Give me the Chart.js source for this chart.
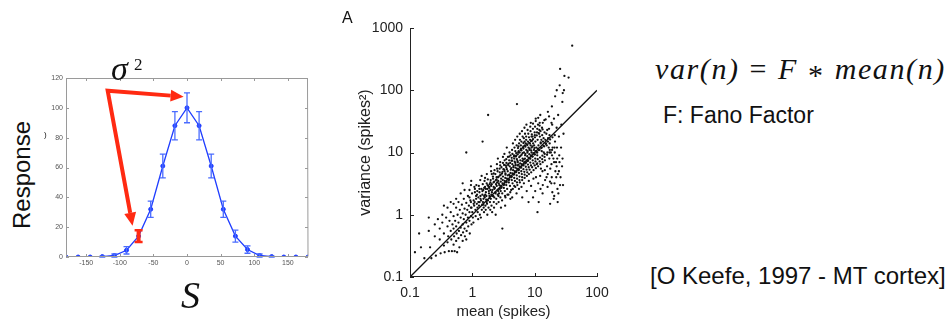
<!DOCTYPE html>
<html>
<head>
<meta charset="utf-8">
<script src="https://cdn.jsdelivr.net/npm/chart.js@4.4.1/dist/chart.umd.min.js"></script>
<style>
  body { margin: 0; width: 951px; height: 321px; background: #fff; position: relative; overflow: hidden;
         font-family: "Liberation Sans", Arial, sans-serif; color: #111; }
  .box { position: absolute; }
  .t { position: absolute; white-space: nowrap; line-height: 1; }
  .serif { font-family: "Liberation Serif", serif; }
  .eq span { display: inline-block; margin: 0 10px; font-style: normal; }
  .eq .ast { position: relative; top: 6px; }
</style>
</head>
<body>
<div class="box" style="left:40px;top:60px;width:280px;height:215px"><canvas id="tuning"></canvas></div>
<div class="box" style="left:340px;top:0;width:280px;height:321px"><canvas id="fano"></canvas></div>

<div class="t" style="left:22px;top:175px;font-size:24px;transform:translate(-50%,-50%) rotate(-90deg)">Response</div>
<div class="t" style="left:44px;top:131px;font-size:8px">)</div>
<div class="t serif" style="left:111px;top:52px;font-size:34px;font-style:italic">σ</div>
<div class="t serif" style="left:134px;top:56px;font-size:17px">2</div>
<div class="t serif" style="left:181px;top:276px;font-size:38px;font-style:italic">S</div>
<div class="t" style="left:342px;top:10px;font-size:16px">A</div>

<div class="t serif eq" style="left:655px;top:54px;font-size:30px;font-style:italic;letter-spacing:1.6px">var(n)<span>=</span>F<span class="ast">*</span>mean(n)</div>
<div class="t" style="left:663px;top:104px;font-size:23px">F: Fano Factor</div>
<div class="t" style="left:650px;top:264px;font-size:24px">[O Keefe, 1997 - MT cortex]</div>

<script>
// tuning curve (left)
const stimulus = [-180, -162, -144, -126, -108, -90, -72, -54, -36, -18, 0, 18, 36, 54, 72, 90, 108, 126, 144, 162, 180];
const response = [0, 0, 0, 0.3, 1, 4.5, 14, 32, 61, 88, 100, 88, 61, 32, 14, 5, 1, 0.3, 0, 0, 0];
const responseErr = [0, 0, 0, 0.3, 1, 2.5, 4, 5.5, 8, 9.5, 10, 9.5, 8, 5.5, 4, 2.5, 1, 0.3, 0, 0, 0];
const highlighted = 6; // the red error bar at -72
const tuningXTicks = [-150, -100, -50, 0, 50, 100, 150];
const tuningYTicks = [0, 20, 40, 60, 80, 100, 120];
// arrow end points in data units
const arrowCorner = [-118, 111.5];
const arrowToPeak = [-5, 107.5];
const arrowToFlank = [-81, 21];

const lowCountPts = [
  [0.1,0.22],[0.12,0.25],[0.14,0.5],[0.15,0.3],[0.17,0.2],[0.2,0.9],[0.2,0.55],[0.21,0.3],[0.22,0.2],[0.25,0.7],
  [0.25,0.45],[0.26,0.22],[0.28,0.85],[0.3,0.6],[0.3,0.4],[0.31,0.24],[0.33,1.0],[0.33,0.75],[0.35,0.5],[0.35,0.32],
  [0.36,0.25],[0.38,0.9],[0.4,1.3],[0.4,0.65],[0.41,0.45],[0.4,0.36],[0.42,0.26],[0.43,0.8],[0.45,1.1],[0.45,0.55],
  [0.46,0.4],[0.47,0.26],[0.48,0.7],[0.5,1.5],[0.5,0.95],[0.5,0.6],[0.51,0.45],[0.5,0.33],[0.52,0.26],[0.53,0.8],
  [0.55,1.3],[0.55,0.65],[0.56,0.5],[0.55,0.38],[0.57,0.25],[0.58,1.0],[0.6,1.6],[0.6,0.75],[0.61,0.55],[0.6,0.42],
  [0.62,0.3],[0.63,1.2],[0.65,0.9],[0.65,0.62],[0.66,0.47],[0.68,1.45],[0.7,1.05],[0.7,0.7],[0.71,0.52],[0.7,0.38],
  [0.73,1.8],[0.73,0.85],[0.75,1.25],[0.75,0.6],[0.76,0.45],[0.78,1.0],[0.8,1.55],[0.8,0.75],[0.81,0.55],[0.8,0.4],
  [0.83,1.2],[0.85,2.0],[0.85,0.9],[0.86,0.65],[0.88,1.4],[0.9,1.1],[0.9,0.8],[0.91,0.5],[0.93,1.7],[0.95,1.3],
  [0.95,0.95],[0.97,0.7],[0.8,10],[0.75,2.5],[0.65,2.2],[0.55,1.8],[0.45,1.6],[0.35,1.4],[0.9,2.5],[0.95,3.0],[0.7,3.2]
];
const mainCloudPts = [
  [1.02,0.9],[0.97,1.3],[1.05,1.7],[0.99,2.2],[1.08,2.8],[1.0,1.1],[1.04,0.75],[0.96,3.5],
  [1.12,1.2],[1.09,1.6],[1.15,2.0],[1.1,2.6],[1.13,0.95],[1.07,1.4],
  [1.22,1.1],[1.18,1.5],[1.25,1.9],[1.2,2.4],[1.16,3.0],[1.24,0.85],[1.21,1.3],[1.19,2.1],
  [1.32,1.0],[1.28,1.4],[1.35,1.8],[1.3,2.3],[1.27,2.9],[1.34,3.6],[1.31,1.6],
  [1.42,1.2],[1.38,1.7],[1.45,2.1],[1.4,2.6],[1.44,1.45],[1.37,0.9],[1.41,4.2],
  [1.52,1.3],[1.48,1.6],[1.55,2.0],[1.5,2.5],[1.47,3.1],[1.54,1.1],[1.51,1.8],[1.46,15],
  [1.62,1.4],[1.58,1.9],[1.65,2.3],[1.6,2.8],[1.57,3.5],[1.64,1.2],[1.61,2.1],
  [1.72,1.5],[1.68,2.0],[1.75,2.6],[1.7,3.2],[1.74,1.0],[1.67,1.75],[1.71,4.5],
  [1.82,1.3],[1.78,1.7],[1.85,2.2],[1.8,2.9],[1.77,3.7],[1.84,2.4],[1.79,40],
  [1.92,1.6],[1.88,2.0],[1.95,2.5],[1.9,3.1],[1.94,1.2],[1.87,2.7],
  [2.03,1.4],[1.98,1.8],[2.06,2.3],[2.0,2.9],[1.97,3.6],[2.05,4.5],[2.02,2.1],[2.08,1.1],[1.99,6],
  [2.21,1.6],[2.16,2.0],[2.25,2.6],[2.19,3.3],[2.14,4.1],[2.23,1.3],[2.2,2.8],[2.27,5.2],
  [2.42,1.8],[2.36,2.3],[2.46,2.9],[2.39,3.6],[2.34,4.5],[2.44,1.5],[2.4,3.1],[2.48,6.5],[2.37,1.0],
  [2.62,2.0],[2.56,2.5],[2.66,3.2],[2.59,4.0],[2.54,5.0],[2.64,1.6],[2.6,3.5],[2.68,2.2],[2.57,8],
  [2.82,1.9],[2.76,2.6],[2.86,3.4],[2.79,4.3],[2.74,5.5],[2.84,2.9],[2.8,7],[2.88,1.3],
  [3.02,2.2],[2.95,2.8],[3.08,3.6],[2.99,4.6],[2.93,5.8],[3.05,3.2],[3.0,1.7],[3.1,8.5],[3.03,0.6],
  [3.32,2.4],[3.25,3.1],[3.38,3.9],[3.29,5.0],[3.23,6.3],[3.35,2.0],[3.3,3.5],[3.4,4.4],[3.27,9.5],[3.36,1.4],
  [3.62,2.6],[3.55,3.4],[3.7,4.3],[3.58,5.4],[3.52,6.8],[3.66,2.1],[3.6,3.8],[3.72,8.5],[3.57,12],
  [4.02,2.9],[3.92,3.7],[4.1,4.7],[3.98,6.0],[3.9,7.5],[4.06,2.3],[4.0,4.2],[4.14,5.3],[3.95,10],[4.08,1.8],
  [4.42,3.2],[4.3,4.1],[4.5,5.2],[4.38,6.5],[4.28,8.2],[4.46,2.6],[4.4,4.6],[4.55,5.8],[4.34,11],[4.48,14],[4.36,1.9],
  [4.82,3.5],[4.7,4.5],[4.92,5.7],[4.78,7.1],[4.66,9.0],[4.88,2.8],[4.8,5.0],[4.95,6.3],[4.74,12],[4.86,16],
  [5.22,3.8],[5.1,4.9],[5.32,6.2],[5.18,7.8],[5.05,9.8],[5.28,3.0],[5.2,5.5],[5.36,7],[5.14,13],[5.26,18],[5.12,2.2],[5.2,60],
  [5.72,4.1],[5.58,5.3],[5.84,6.7],[5.66,8.4],[5.54,10.5],[5.78,3.3],[5.7,6],[5.88,7.5],[5.62,14],[5.76,20],[5.6,2.6],
  [6.22,4.5],[6.08,5.8],[6.36,7.3],[6.18,9.2],[6.04,11.5],[6.3,3.6],[6.2,6.5],[6.4,8],[6.12,15],[6.26,22],[6.14,2.8],[6.32,1.9],
  [6.82,4.9],[6.65,6.3],[6.98,8],[6.75,10],[6.6,12.5],[6.9,3.9],[6.8,7],[7.02,9],[6.7,17],[6.86,25],[6.72,3.2],
  [7.42,5.3],[7.25,6.9],[7.6,8.7],[7.35,11],[7.2,14],[7.5,4.2],[7.4,7.5],[7.65,10],[7.3,18],[7.46,2.4],[7.38,28],
  [8.02,5.8],[7.85,7.4],[8.2,9.4],[7.95,12],[7.8,15],[8.1,4.5],[8.0,8.2],[8.25,11],[7.9,20],[8.06,3.5],[7.98,1.6],
  [8.72,6.2],[8.5,8],[8.9,10],[8.62,13],[8.45,16],[8.8,4.8],[8.7,9],[8.95,12],[8.58,22],[8.76,2.9],[8.66,30],
  [9.52,6.7],[9.3,8.6],[9.75,11],[9.45,14],[9.25,18],[9.6,5.2],[9.5,9.8],[9.8,13],[9.38,24],[9.56,3.8],[9.42,1.9],
  [10.3,7.2],[10.1,9.3],[10.6,12],[10.25,15],[10.05,19],[10.45,5.6],[10.35,10.5],[10.15,26],[10.5,4],[10.2,2.4],[10.4,35],
  [11.2,7.8],[11.0,10],[11.5,13],[11.15,16],[10.9,21],[11.35,6],[11.25,11.5],[11.4,3.2],[11.1,1.1],[11.3,28],
  [12.2,8.3],[11.95,11],[12.5,14],[12.1,18],[11.9,23],[12.35,6.5],[12.25,4.2],[12.4,2.6],[12.05,30],[12.3,40],
  [13.3,8.9],[13.0,12],[13.6,15],[13.2,19],[13.45,7],[13.35,5],[13.5,3],[13.1,25],[13.4,2.2],
  [14.5,9.5],[14.2,12.5],[14.8,16],[14.4,21],[14.6,7.5],[14.55,5.2],[14.3,33],[14.7,3.6],
  [16.0,10],[15.6,13],[16.4,17],[15.8,6],[16.2,4.5],[16.1,2.8],[15.9,23],[16.3,45],
  [17.5,11],[17.2,8],[17.8,5.5],[17.4,14],[17.6,3.4],[17.7,1.5],[17.3,19],
  [19.0,9],[18.6,6.5],[19.4,12],[18.8,4],[19.2,2.3],[19.1,28],[18.9,55],
  [21,10],[20.5,7],[21.5,5],[20.8,3.2],[21.2,15],[20.6,2],[21.3,80],
  [23,8],[22.5,6],[23.5,4.5],[22.8,12],[23.2,2.6],[23.4,1.6],[22.6,100],
  [25,7],[24.5,5],[25.5,3],[24.8,9],[25.2,120],[25.6,220],
  [28,8],[27.5,6],[28.5,3],[27.8,65],[28.2,90],
  [30,170],[29.5,100],[35,160],[40,520]
];
const coreCloudPts = [
  [2.1,2.5],[2.3,2.7],[2.5,3.3],[2.7,3.0],[2.9,3.8],[3.1,4.1],[3.4,4.6],[3.7,5.0],[3.9,4.4],[4.2,5.6],
  [4.6,6.1],[4.9,6.8],[5.3,7.3],[5.5,6.4],[5.9,8.8],[6.4,9.8],[6.7,7.7],[7.1,9.5],[7.7,10.5],[8.3,11.5],
  [8.8,10.8],[9.2,12.5],[9.9,11.8],[2.15,3.8],[2.45,4.0],[2.75,4.8],[3.15,5.4],[3.45,6.2],[3.8,6.6],[4.25,7.4],
  [4.65,8.6],[5.05,8.9],[5.45,10],[5.95,11],[6.5,12],[7.0,13],[7.6,13.5],[8.4,14],[9.1,15.5],[2.25,1.9],
  [2.55,2.1],[2.85,2.4],[3.2,2.7],[3.5,3.0],[3.85,3.3],[4.3,3.6],[4.7,3.9],[5.15,4.3],[5.6,4.7],[6.1,5.0],
  [6.6,5.4],[7.2,5.9],[7.8,6.4],[8.5,6.9],[9.3,7.5],[10.2,8.0],[1.55,2.7],[1.75,3.0],[1.95,3.3],[1.35,2.0],
  [1.25,1.6],[1.15,1.8],[1.05,1.5],[0.95,1.6],[0.9,1.9],[1.1,2.3],[1.3,2.6],[1.6,3.9],[2.0,5.0],[3.3,7.5],
  [4.1,9.0],[5.5,12.5],[6.9,15],[8.9,18],[11.8,20],[12.8,16],[15.2,14],[16.8,12],[18.2,10],[20,8],
  [22,7],[14,10],[13,10.5],[11,9],[10.8,6.5],[12.6,5.5],[15.5,4],[18.5,3.2],[22.2,4],[26,4],
  [24,2.2],[20.2,1.8],[11.6,1.6]
];
const denseCorePts = [
  [1.45,2.4],[1.65,2.6],[1.85,2.8],[2.05,3.1],[2.25,3.4],[2.45,3.7],[2.65,4.1],[2.85,4.4],[3.05,4.9],[3.25,5.3],
  [3.5,5.8],[3.75,6.3],[4.05,6.8],[4.35,7.4],[4.7,8.0],[5.0,8.6],[5.35,9.3],[5.75,10],[6.15,10.8],[6.6,11.6],
  [7.1,12.4],[7.6,13.2],[8.15,14.2],[8.75,15.2],[9.4,16.4],[10.1,17.5],[10.8,18.8],[11.6,20.5],[12.4,22],[13.4,23.5],
  [1.5,1.45],[1.7,1.6],[1.9,1.85],[2.1,2.0],[2.35,2.2],[2.6,2.4],[2.9,2.7],[3.2,3.0],[3.5,3.3],[3.85,3.6],
  [4.2,4.0],[4.6,4.4],[5.0,4.8],[5.5,5.2],[6.0,5.7],[6.5,6.2],[7.1,6.7],[7.7,7.3],[8.4,8.0],[9.1,8.6],
  [9.9,9.3],[10.8,10.1],[11.7,10.9],[12.7,11.8],[13.8,12.8],[15,13.8],[16.3,15],[17.7,16.2],[19.3,17.5],[21,19],
  [2.2,4.6],[2.5,5.5],[2.8,6.2],[3.1,6.8],[3.5,7.8],[3.9,8.6],[4.4,9.5],[4.9,10.5],[5.4,11.8],[6.0,13],
  [6.6,14.2],[7.3,16],[8.1,17.5],[9.0,19.5],[10,21],[11,24],[12,27],[13.5,30],[15,34],[17,38],
  [3.4,1.9],[3.8,2.1],[4.2,2.5],[4.7,2.9],[5.2,3.3],[5.7,3.6],[6.3,4.0],[6.9,4.4],[7.6,4.8],[8.3,5.3],
  [9.1,5.8],[10,6.2],[11,6.7],[12,7.2],[13.2,7.8],[14.4,8.5],[15.8,9.2],[17.3,10],[19,11],[20.8,12],
  [5.8,16],[6.4,18],[7.0,20],[7.7,23],[8.5,26],[9.4,29],[10.4,32],[11.4,36],[12.5,14.5],[13.9,17],
  [15.4,20],[17,24],[18.6,30],[20.4,35],[22.5,25],[24.5,18],[26.5,12],[23.8,40],[26.8,28],[29,20]
];
const unityLine = [0.1, 100];
const fanoXTicks = [0.1, 1, 10, 100];
const fanoYTicks = [0.1, 1, 10, 100, 1000];

const FONT = '"Liberation Sans", Arial, sans-serif';

// axis box + inward tick marks, drawn from the scales
const frame = {
  id: 'frame',
  afterDraw(chart, args, o) {
    const { ctx, chartArea: a } = chart;
    const sx = chart.scales.x, sy = chart.scales.y;
    ctx.save();
    ctx.strokeStyle = o.color;
    ctx.lineWidth = 1;
    ctx.beginPath();
    ctx.moveTo(a.left + 0.5, a.top);
    ctx.lineTo(a.left + 0.5, a.bottom - 0.5);
    ctx.lineTo(a.right, a.bottom - 0.5);
    if (o.box) {
      ctx.lineTo(a.right - 0.5, a.top + 0.5);
      ctx.lineTo(a.left + 0.5, a.top + 0.5);
    }
    sx.ticks.forEach(t => {
      const px = Math.round(sx.getPixelForValue(t.value)) + 0.5;
      ctx.moveTo(px, a.bottom); ctx.lineTo(px, a.bottom - o.len);
      if (o.box) { ctx.moveTo(px, a.top); ctx.lineTo(px, a.top + o.len); }
    });
    sy.ticks.forEach(t => {
      const py = Math.round(sy.getPixelForValue(t.value)) + 0.5;
      ctx.moveTo(a.left, py); ctx.lineTo(a.left + o.len, py);
      if (o.box) { ctx.moveTo(a.right, py); ctx.lineTo(a.right - o.len, py); }
    });
    ctx.stroke();
    ctx.restore();
  }
};

const errorBars = {
  id: 'errorBars',
  afterDatasetsDraw(chart) {
    const { ctx } = chart;
    const sx = chart.scales.x, sy = chart.scales.y;
    ctx.save();
    stimulus.forEach((s, i) => {
      const e = responseErr[i];
      if (!e) return;
      const red = i === highlighted;
      const px = sx.getPixelForValue(s);
      const top = sy.getPixelForValue(response[i] + e);
      const bot = sy.getPixelForValue(response[i] - e);
      const cap = red ? 4 : 3;
      ctx.strokeStyle = red ? '#ff2a12' : '#4a6cff';
      ctx.lineWidth = red ? 4 : 1.3;
      ctx.beginPath();
      ctx.moveTo(px, top); ctx.lineTo(px, bot);
      ctx.stroke();
      ctx.lineWidth = red ? 2.5 : 1.3;
      ctx.beginPath();
      ctx.moveTo(px - cap, top); ctx.lineTo(px + cap, top);
      ctx.moveTo(px - cap, bot); ctx.lineTo(px + cap, bot);
      ctx.stroke();
    });
    ctx.restore();
  }
};

const arrows = {
  id: 'arrows',
  afterDraw(chart) {
    const { ctx } = chart;
    const sx = chart.scales.x, sy = chart.scales.y;
    const c = [sx.getPixelForValue(arrowCorner[0]), sy.getPixelForValue(arrowCorner[1])];
    ctx.save();
    ctx.strokeStyle = '#ff2a12';
    ctx.fillStyle = '#ff2a12';
    ctx.lineWidth = 4;
    const heads = [];
    ctx.beginPath();
    [arrowToPeak, arrowToFlank].forEach((tip, k) => {
      const t = [sx.getPixelForValue(tip[0]), sy.getPixelForValue(tip[1])];
      const ang = Math.atan2(t[1] - c[1], t[0] - c[0]);
      const hl = 13;
      const b = [t[0] - hl * Math.cos(ang), t[1] - hl * Math.sin(ang)];
      if (k === 0) { ctx.moveTo(b[0], b[1]); ctx.lineTo(c[0], c[1]); }
      else ctx.lineTo(b[0], b[1]);
      heads.push([t, b, ang]);
    });
    ctx.stroke();
    heads.forEach(([t, b, ang]) => {
      const hw = 6;
      ctx.beginPath();
      ctx.moveTo(t[0], t[1]);
      ctx.lineTo(b[0] + hw * Math.sin(ang), b[1] - hw * Math.cos(ang));
      ctx.lineTo(b[0] - hw * Math.sin(ang), b[1] + hw * Math.cos(ang));
      ctx.closePath();
      ctx.fill();
    });
    ctx.restore();
  }
};

new Chart(document.getElementById('tuning'), {
  type: 'line',
  data: {
    datasets: [{
      data: stimulus.map((s, i) => ({ x: s, y: response[i] })),
      borderColor: '#1f3dff',
      backgroundColor: '#1f3dff',
      borderWidth: 1.3,
      pointRadius: 2,
      pointBorderWidth: 1,
      tension: 0
    }]
  },
  options: {
    responsive: true,
    maintainAspectRatio: false,
    animation: false,
    layout: { padding: { top: 18, right: 12, left: 0, bottom: 0 } },
    plugins: { legend: { display: false }, tooltip: { enabled: false }, frame: { color: '#9a9a9a', box: true, len: 3 } },
    scales: {
      x: {
        type: 'linear', min: -180, max: 180,
        afterBuildTicks: s => { s.ticks = tuningXTicks.map(v => ({ value: v })); },
        afterFit: s => { s.height = 18; },
        grid: { display: false, drawTicks: false },
        border: { display: false },
        ticks: { font: { family: FONT, size: 7 }, color: '#555', padding: 2, maxRotation: 0 }
      },
      y: {
        min: 0, max: 120,
        afterBuildTicks: s => { s.ticks = tuningYTicks.map(v => ({ value: v })); },
        afterFit: s => { s.width = 26; },
        grid: { display: false, drawTicks: false },
        border: { display: false },
        ticks: { font: { family: FONT, size: 7 }, color: '#555', padding: 3 }
      }
    }
  },
  plugins: [frame, errorBars, arrows]
});

const toXY = p => ({ x: p[0], y: p[1] });

new Chart(document.getElementById('fano'), {
  type: 'scatter',
  data: {
    datasets: [
      {
        data: lowCountPts.concat(mainCloudPts, coreCloudPts, denseCorePts).map(toXY),
        backgroundColor: '#111', borderWidth: 0, pointRadius: 1.15
      },
      {
        data: unityLine.map(v => ({ x: v, y: v })),
        showLine: true, borderColor: '#111', borderWidth: 1.3, pointRadius: 0
      }
    ]
  },
  options: {
    responsive: true,
    maintainAspectRatio: false,
    animation: false,
    layout: { padding: { top: 28, right: 23, left: 0, bottom: 0 } },
    plugins: { legend: { display: false }, tooltip: { enabled: false }, frame: { color: '#222', box: false, len: 4 } },
    scales: {
      x: {
        type: 'logarithmic', min: 0.1, max: 100,
        afterBuildTicks: s => { s.ticks = fanoXTicks.map(v => ({ value: v })); },
        afterFit: s => { s.height = 44; },
        grid: { display: false, drawTicks: false },
        border: { display: false },
        ticks: { font: { family: FONT, size: 14 }, color: '#222', padding: 8, maxRotation: 0, callback: v => String(v) },
        title: { display: true, text: 'mean (spikes)', font: { family: FONT, size: 15 }, color: '#222', padding: { top: 0, bottom: 0 } }
      },
      y: {
        type: 'logarithmic', min: 0.1, max: 1000,
        afterBuildTicks: s => { s.ticks = fanoYTicks.map(v => ({ value: v })); },
        afterFit: s => { s.width = 70; },
        grid: { display: false, drawTicks: false },
        border: { display: false },
        ticks: { font: { family: FONT, size: 14 }, color: '#222', padding: 7, callback: v => String(v) },
        title: { display: true, text: 'variance (spikes²)', font: { family: FONT, size: 16 }, color: '#222', padding: { top: 16, bottom: 0 } }
      }
    }
  },
  plugins: [frame]
});
</script>
</body>
</html>
